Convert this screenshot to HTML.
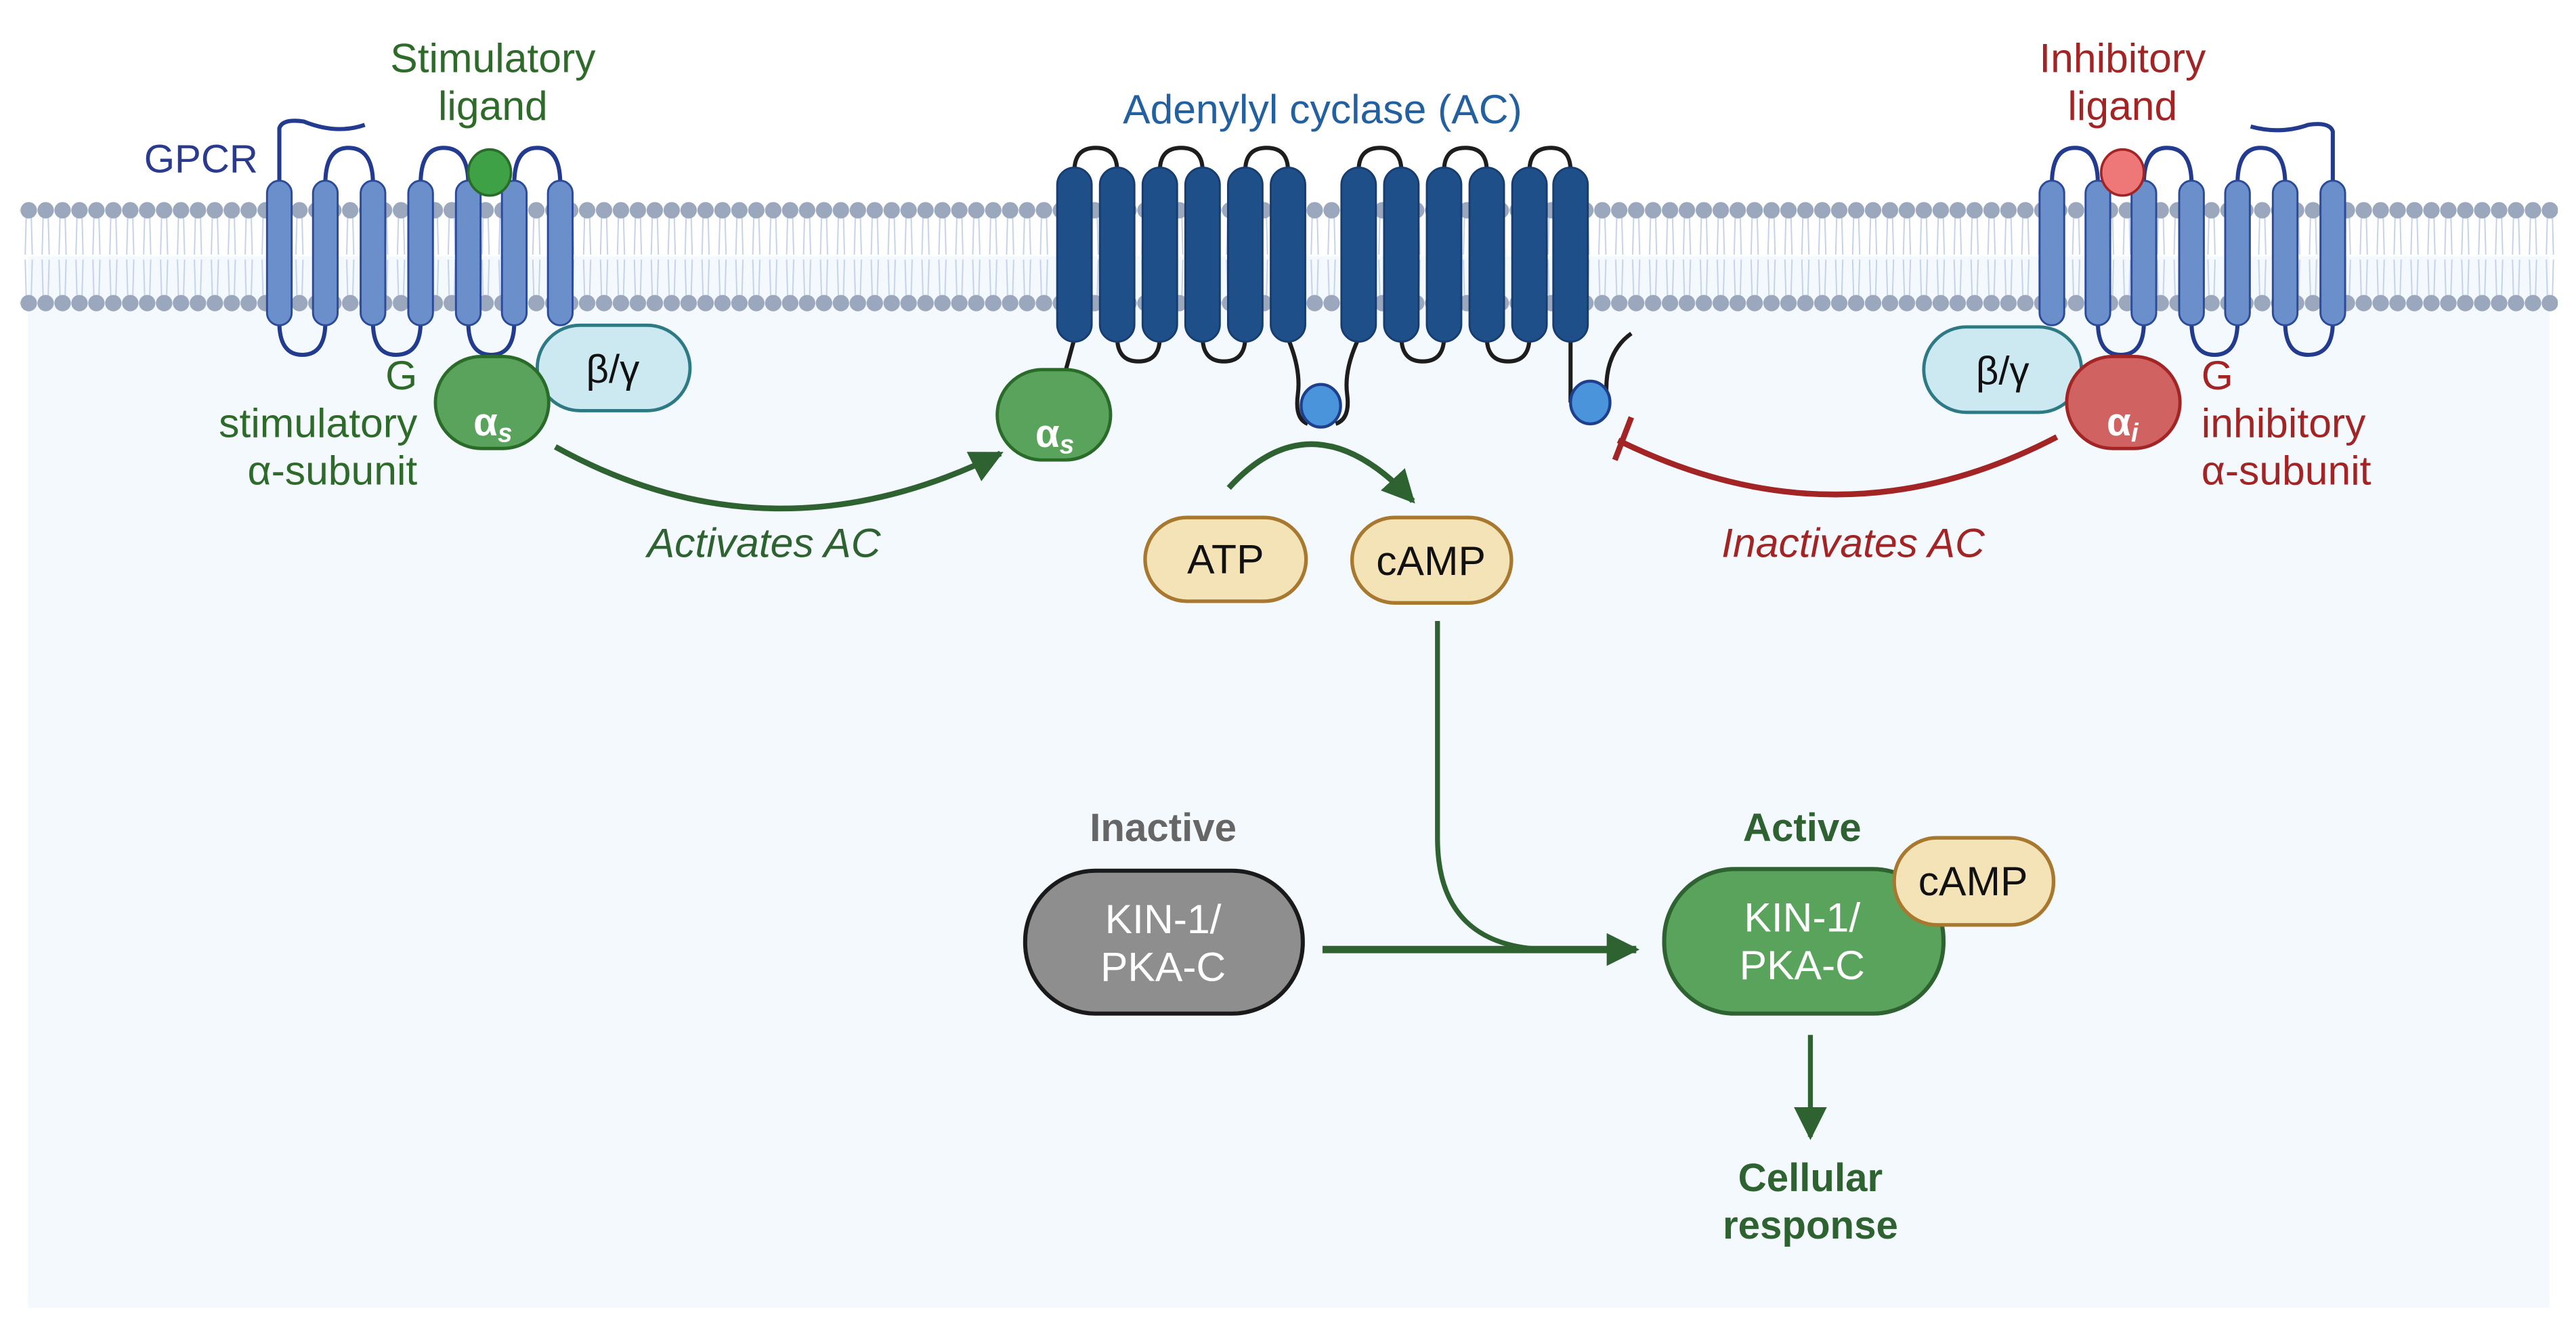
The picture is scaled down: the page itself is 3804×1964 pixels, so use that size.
<!DOCTYPE html>
<html><head><meta charset="utf-8"><style>
html,body{margin:0;padding:0;background:#fff;}
svg{display:block;}
text{font-family:"Liberation Sans",sans-serif;}
</style></head><body>
<svg width="3804" height="1964" viewBox="0 0 1568 809.6" xmlns="http://www.w3.org/2000/svg">
<defs>
<pattern id="lip" x="2" y="0" width="10.3" height="810" patternUnits="userSpaceOnUse">
<g stroke="#c3d1ea" stroke-width="0.8" fill="none">
<path d="M3.6 132 L3 155 M6.7 132 L7.3 155"/>
<path d="M3 158 L3.6 180 M7.3 158 L6.7 180"/>
</g>
<circle cx="5.15" cy="128" r="5" fill="#9aa7bc"/>
<circle cx="5.15" cy="184.5" r="5" fill="#9aa7bc"/>
</pattern>
<marker id="ag" markerWidth="20" markerHeight="20" refX="9" refY="5" orient="auto" markerUnits="userSpaceOnUse" viewBox="0 0 10 10"><path d="M0 0 L10 5 L0 10 Z" fill="#2e6231"/></marker>
</defs>
<rect x="0" y="0" width="1568" height="810" fill="#fff"/>
<rect x="17" y="156" width="1535" height="640" fill="#f4f9fd"/>
<rect x="12" y="120" width="1545" height="72" fill="url(#lip)"/>

<!-- Left GPCR -->
<g fill="none" stroke="#233b8e" stroke-width="2.5">
<path d="M170 112 L170 78 Q172 72 185 74 Q205 82 222 76"/>
<path d="M198 112 Q198 90 212 90 Q227 90 227 112"/>
<path d="M256 112 Q256 90 270 90 Q285 90 285 112"/>
<path d="M313 112 Q313 90 327 90 Q341 90 341 112"/>
<path d="M170 196 Q170 216 184 216 Q198 216 198 196"/>
<path d="M227 196 Q227 216 241 216 Q256 216 256 196"/>
<path d="M285 196 Q285 216 299 216 Q313 216 313 196"/>
</g>
<g fill="#6a8fca" stroke="#2c4a9a" stroke-width="1.2">
<rect x="162.5" y="110" width="15" height="88" rx="7.5"/>
<rect x="190.5" y="110" width="15" height="88" rx="7.5"/>
<rect x="219.5" y="110" width="15" height="88" rx="7.5"/>
<rect x="248.5" y="110" width="15" height="88" rx="7.5"/>
<rect x="277.5" y="110" width="15" height="88" rx="7.5"/>
<rect x="305.5" y="110" width="15" height="88" rx="7.5"/>
<rect x="333.5" y="110" width="15" height="88" rx="7.5"/>
</g>
<ellipse cx="298" cy="105" rx="13" ry="14" fill="#3fa145" stroke="#2a6b2a" stroke-width="1.5"/>
<rect x="327" y="198" width="93" height="52" rx="26" fill="#cce8f0" stroke="#2e7a84" stroke-width="2"/>
<text x="373" y="233" font-size="24" text-anchor="middle" fill="#111">β/γ</text>
<rect x="265" y="217" width="69" height="56" rx="28" fill="#5aa35c" stroke="#2a6b2a" stroke-width="2"/>
<text x="300" y="265" font-size="24" font-weight="bold" text-anchor="middle" fill="#fff">α<tspan font-size="16" font-style="italic" dy="4">s</tspan></text>

<text x="300" y="44" font-size="25" text-anchor="middle" fill="#2e6b2a">Stimulatory</text>
<text x="300" y="73" font-size="25" text-anchor="middle" fill="#2e6b2a">ligand</text>
<text x="157" y="105" font-size="24" text-anchor="end" fill="#2a3a8c">GPCR</text>
<text x="254" y="237" font-size="25" text-anchor="end" fill="#2e6b2a">G</text>
<text x="254" y="266" font-size="25" text-anchor="end" fill="#2e6b2a">stimulatory</text>
<text x="254" y="295" font-size="25" text-anchor="end" fill="#2e6b2a">α-subunit</text>

<!-- Activates arrow -->
<path d="M338 272 Q470 345 609 276" fill="none" stroke="#2e6231" stroke-width="3.5" marker-end="url(#ag)"/>
<text x="465" y="339" font-size="25" font-style="italic" text-anchor="middle" fill="#2e6231">Activates AC</text>

<!-- AC -->
<g fill="none" stroke="#1d1d1d" stroke-width="2.5">
<path d="M654 104 Q654 90 667 90 Q680 90 680 104"/>
<path d="M706 104 Q706 90 719 90 Q732 90 732 104"/>
<path d="M758 104 Q758 90 771 90 Q784 90 784 104"/>
<path d="M827 104 Q827 90 840 90 Q853 90 853 104"/>
<path d="M879 104 Q879 90 892 90 Q905 90 905 104"/>
<path d="M931 104 Q931 90 944 90 Q956 90 956 104"/>
<path d="M680 205 Q680 220 693 220 Q706 220 706 205"/>
<path d="M732 205 Q732 220 745 220 Q758 220 758 205"/>
<path d="M853 205 Q853 220 866 220 Q879 220 879 205"/>
<path d="M905 205 Q905 220 918 220 Q931 220 931 205"/>
<path d="M654 206 L648 228"/>
<path d="M784 206 Q792 225 790 240 Q788 255 796 258"/>
<path d="M827 206 Q818 225 820 240 Q822 255 813 258"/>
<path d="M956 206 L956 245"/>
<path d="M978 242 Q976 215 993 203"/>
</g>
<g fill="#1e4f88" stroke="#173d70" stroke-width="1.2">
<rect x="643.5" y="102" width="21" height="106" rx="10.5"/>
<rect x="669.5" y="102" width="21" height="106" rx="10.5"/>
<rect x="695.5" y="102" width="21" height="106" rx="10.5"/>
<rect x="721.5" y="102" width="21" height="106" rx="10.5"/>
<rect x="747.5" y="102" width="21" height="106" rx="10.5"/>
<rect x="773.5" y="102" width="21" height="106" rx="10.5"/>
<rect x="816.5" y="102" width="21" height="106" rx="10.5"/>
<rect x="842.5" y="102" width="21" height="106" rx="10.5"/>
<rect x="868.5" y="102" width="21" height="106" rx="10.5"/>
<rect x="894.5" y="102" width="21" height="106" rx="10.5"/>
<rect x="920.5" y="102" width="21" height="106" rx="10.5"/>
<rect x="945.5" y="102" width="21" height="106" rx="10.5"/>
</g>
<ellipse cx="804" cy="247" rx="12" ry="13" fill="#4a94dc" stroke="#1d3f8e" stroke-width="1.8"/>
<ellipse cx="968" cy="245" rx="12" ry="13" fill="#4a94dc" stroke="#1d3f8e" stroke-width="1.8"/>
<rect x="607" y="225" width="69" height="55" rx="27.5" fill="#5aa35c" stroke="#2a6b2a" stroke-width="2"/>
<text x="642" y="272" font-size="24" font-weight="bold" text-anchor="middle" fill="#fff">α<tspan font-size="16" font-style="italic" dy="4">s</tspan></text>
<text x="805" y="75" font-size="25" text-anchor="middle" fill="#2360a0">Adenylyl cyclase (AC)</text>

<!-- ATP -> cAMP -->
<path d="M748 297 Q800 240 860 305" fill="none" stroke="#2e6231" stroke-width="3.5" marker-end="url(#ag)"/>
<rect x="697" y="315" width="98" height="51" rx="25.5" fill="#f4e3b7" stroke="#a8782e" stroke-width="2.2"/>
<text x="746" y="349" font-size="25" text-anchor="middle" fill="#111">ATP</text>
<rect x="823" y="315" width="97" height="52" rx="26" fill="#f4e3b7" stroke="#a8782e" stroke-width="2.2"/>
<text x="871" y="350" font-size="25" text-anchor="middle" fill="#111">cAMP</text>

<!-- Inhibition -->
<path d="M1252 266 Q1120 335 985 268" fill="none" stroke="#a32424" stroke-width="3.5"/>
<path d="M993 254 L983 280" stroke="#a32424" stroke-width="3.5"/>
<text x="1128" y="339" font-size="25" font-style="italic" text-anchor="middle" fill="#a32424">Inactivates AC</text>

<!-- Right GPCR -->
<g fill="none" stroke="#233b8e" stroke-width="2.5">
<path d="M1420 112 L1420 80 Q1418 74 1405 76 Q1388 82 1370 77"/>
<path d="M1249 112 Q1249 90 1263 90 Q1277 90 1277 112"/>
<path d="M1305 112 Q1305 90 1319 90 Q1334 90 1334 112"/>
<path d="M1362 112 Q1362 90 1376 90 Q1391 90 1391 112"/>
<path d="M1277 196 Q1277 216 1291 216 Q1305 216 1305 196"/>
<path d="M1334 196 Q1334 216 1348 216 Q1362 216 1362 196"/>
<path d="M1391 196 Q1391 216 1405 216 Q1420 216 1420 196"/>
</g>
<g fill="#6a8fca" stroke="#2c4a9a" stroke-width="1.2">
<rect x="1241.5" y="110" width="15" height="88" rx="7.5"/>
<rect x="1269.5" y="110" width="15" height="88" rx="7.5"/>
<rect x="1297.5" y="110" width="15" height="88" rx="7.5"/>
<rect x="1326.5" y="110" width="15" height="88" rx="7.5"/>
<rect x="1354.5" y="110" width="15" height="88" rx="7.5"/>
<rect x="1383.5" y="110" width="15" height="88" rx="7.5"/>
<rect x="1412.5" y="110" width="15" height="88" rx="7.5"/>
</g>
<ellipse cx="1292" cy="105" rx="13" ry="14" fill="#ee7878" stroke="#a32424" stroke-width="1.5"/>
<rect x="1171" y="199" width="96" height="52" rx="26" fill="#cce8f0" stroke="#2e7a84" stroke-width="2"/>
<text x="1219" y="234" font-size="24" text-anchor="middle" fill="#111">β/γ</text>
<rect x="1258" y="217" width="69" height="56" rx="28" fill="#d06262" stroke="#a32424" stroke-width="2"/>
<text x="1292" y="265" font-size="24" font-weight="bold" text-anchor="middle" fill="#fff">α<tspan font-size="16" font-style="italic" dy="4">i</tspan></text>
<text x="1292" y="44" font-size="25" text-anchor="middle" fill="#a32424">Inhibitory</text>
<text x="1292" y="73" font-size="25" text-anchor="middle" fill="#a32424">ligand</text>
<text x="1340" y="237" font-size="25" fill="#a32424">G</text>
<text x="1340" y="266" font-size="25" fill="#a32424">inhibitory</text>
<text x="1340" y="295" font-size="25" fill="#a32424">α-subunit</text>

<!-- cAMP to kinase -->
<path d="M875 378 L875 510 Q875 578 945 578" fill="none" stroke="#2e6231" stroke-width="3"/>
<path d="M805 578 L996 578" fill="none" stroke="#2e6231" stroke-width="4.5" marker-end="url(#ag)"/>

<text x="708" y="512" font-size="24" font-weight="bold" text-anchor="middle" fill="#666">Inactive</text>
<rect x="624" y="530" width="169" height="87" rx="43" fill="#8e8e8e" stroke="#1a1a1a" stroke-width="2.5"/>
<text x="708" y="568" font-size="25" text-anchor="middle" fill="#fff">KIN-1/</text>
<text x="708" y="597" font-size="25" text-anchor="middle" fill="#fff">PKA-C</text>

<text x="1097" y="512" font-size="24" font-weight="bold" text-anchor="middle" fill="#2e6231">Active</text>
<rect x="1013" y="529" width="170" height="88" rx="43" fill="#5aa35c" stroke="#2e6231" stroke-width="2.5"/>
<text x="1097" y="567" font-size="25" text-anchor="middle" fill="#fff">KIN-1/</text>
<text x="1097" y="596" font-size="25" text-anchor="middle" fill="#fff">PKA-C</text>
<rect x="1153" y="510" width="97" height="53" rx="26" fill="#f4e3b7" stroke="#a8782e" stroke-width="2.2"/>
<text x="1201" y="545" font-size="25" text-anchor="middle" fill="#111">cAMP</text>

<path d="M1102 630 L1102 692" stroke="#2e6231" stroke-width="3" marker-end="url(#ag)"/>
<text x="1102" y="725" font-size="24" font-weight="bold" text-anchor="middle" fill="#2e6231">Cellular</text>
<text x="1102" y="754" font-size="24" font-weight="bold" text-anchor="middle" fill="#2e6231">response</text>
</svg>
</body></html>
